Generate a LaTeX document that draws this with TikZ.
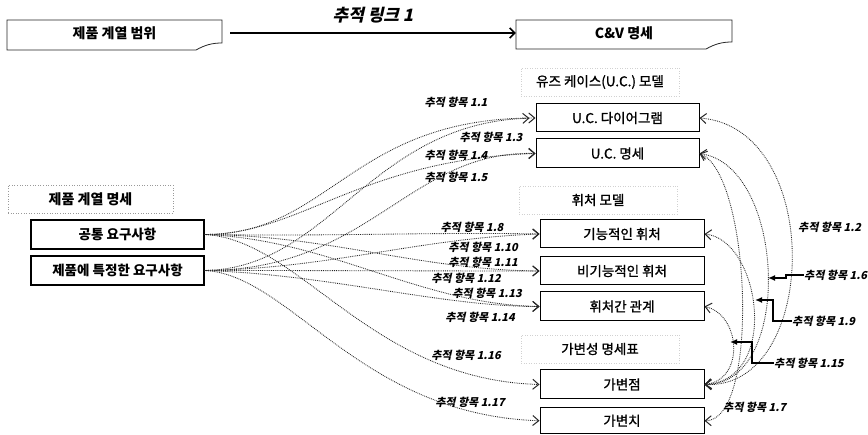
\documentclass[tikz,border=0pt]{standalone}
\usepackage{fontspec}
\newfontfamily\kr{Noto Sans CJK KR}
\newfontfamily\krm{Noto Sans CJK KR}[FakeBold=1.2]
\newfontfamily\krsl{Noto Sans CJK KR}[FakeSlant=0.22]
\usetikzlibrary{arrows.meta}
\begin{document}
\begin{tikzpicture}[x=1pt,y=-1pt,
  toptext/.style={font=\kr\bfseries\fontsize{14}{16}\selectfont, inner sep=0pt, minimum height=26pt},
  doc/.style={draw=black!85, line width=0.8pt},
  lbox/.style={draw=black, line width=1.1pt, minimum width=173pt, minimum height=29pt, inner sep=0pt, font=\kr\bfseries\fontsize{13.5}{15}\selectfont},
  rbox/.style={draw=black, line width=1pt, minimum width=164pt, inner sep=0pt, font=\krm\fontsize{13.5}{15}\selectfont},
  grp/.style={draw=black!18, dotted, line width=0.5pt, minimum width=158pt, minimum height=28pt, inner sep=0pt, font=\krm\fontsize{13.5}{15}\selectfont},
  lgrp/.style={draw=black!40, dotted, line width=0.6pt, minimum width=165pt, minimum height=28pt, inner sep=0pt, font=\kr\bfseries\fontsize{14}{16}\selectfont},
  lab/.style={font=\krsl\bfseries\fontsize{11}{12}\selectfont, inner sep=0pt},
  toplab/.style={font=\krsl\bfseries\fontsize{17}{19}\selectfont, inner sep=0pt},
  tip/.style={},
  trace/.style={densely dotted, line width=0.85pt, draw=black!85, -{Straight Barb[length=6pt,width=10pt,line width=1pt]}},
  trace2/.style={densely dotted, line width=0.85pt, draw=black!85, {Straight Barb[length=6pt,width=10pt,line width=1pt]}-{Straight Barb[length=6pt,width=10pt,line width=1pt]}},
  steparrow/.style={line width=1.5pt, -{Latex[length=7pt,width=6pt]}},
  toparrow/.style={line width=1.6pt, shorten <=8pt, -{Straight Barb[length=5pt,width=10pt,line width=1.6pt]}}
]
\useasboundingbox (0,0) rectangle (868,435);

% top row
\node[toptext, minimum width=215pt] (scope) at (114.5,33) {제품 계열 범위};
\draw[doc] (7,20) -- (222,20) -- (222,43) .. controls (212,43) and (205,45) .. (196,50) -- (7,50) -- cycle;
\node[toptext, minimum width=216pt] (cv) at (624,33) {C\&V 명세};
\draw[doc] (516,20) -- (732,20) -- (732,42) .. controls (722,42) and (715,44) .. (706,49) -- (516,49) -- cycle;
\draw[toparrow] (scope.east) -- (cv.west);
\node[toplab] (tl1) at (373,15) {추적 링크 1};

% left side
\node[lgrp] (plspec) at (90.5,199) {제품 계열 명세};
\node[lbox] (com) at (117.5,234.5) {공통 요구사항};
\node[lbox] (spec) at (117.5,270.5) {제품에 특정한 요구사항};

% right side groups
\node[grp] (ucg) at (600,82) {유즈 케이스(U.C.) 모델};
\node[rbox, minimum width=163pt, minimum height=28pt] (ucd) at (617.5,118) {U.C. 다이어그램};
\node[rbox, minimum width=163pt, minimum height=29pt] (ucs) at (617.5,153.5) {U.C. 명세};
\node[grp] (ftg) at (598,200) {휘처 모델};
\node[rbox, minimum height=28pt] (fun) at (622,234) {기능적인 휘처};
\node[rbox, minimum height=28pt] (nfun) at (622,271) {비기능적인 휘처};
\node[rbox, minimum height=29pt] (rel) at (622,306.5) {휘처간 관계};
\node[grp] (vtg) at (600,349) {가변성 명세표};
\node[rbox, minimum height=29pt] (vp) at (622,384.5) {가변점};
\node[rbox, minimum height=25.5pt] (vv) at (622,420.75) {가변치};

% left trace links
\draw[trace] (com.east) .. controls +(126,0) and +(-185,0) .. (ucd.west);
\draw[trace, shorten >=6pt] (spec.east) .. controls +(126,-2) and +(-166,5) .. (ucd.west);
\draw[trace] (com.east) .. controls +(96,0) and +(-175,6) .. (ucs.west);
\draw[trace] (spec.east) .. controls +(166,0) and +(-126,-3.5) .. (ucs.west);
\draw[trace] (com.east) .. controls +(130,2) and +(-110,-2) .. (fun.west);
\draw[trace] (spec.east) .. controls +(126,-2) and +(-120,4) .. (fun.west);
\draw[trace] (com.east) .. controls +(126,1) and +(-120,-1) .. (nfun.west);
\draw[trace] (spec.east) .. controls +(130,0) and +(-110,0) .. (nfun.west);
\draw[trace] (com.east) .. controls +(126,5) and +(-120,-2) .. (rel.west);
\draw[trace] (spec.east) .. controls +(126,4) and +(-100,0) .. (rel.west);
\draw[trace] (com.east) .. controls +(96,5) and +(-170,-5) .. (vp.west);
\draw[trace] (spec.east) .. controls +(86,4) and +(-180,-6) .. (vv.west);

\node[lab] (l11) at (456,102) {추적 항목 1.1};
\node[lab] (l13) at (491,137) {추적 항목 1.3};
\node[lab] (l14) at (456,155) {추적 항목 1.4};
\node[lab] (l15) at (456,177) {추적 항목 1.5};
\node[lab] (l18) at (472,227) {추적 항목 1.8};
\node[lab] (l110) at (483,247) {추적 항목 1.10};
\node[lab] (l111) at (483,262) {추적 항목 1.11};
\node[lab] (l112) at (466,278) {추적 항목 1.12};
\node[lab] (l113) at (487,293) {추적 항목 1.13};
\node[lab] (l114) at (480,317) {추적 항목 1.14};
\node[lab] (l116) at (466,355) {추적 항목 1.16};
\node[lab] (l117) at (470,402) {추적 항목 1.17};

% right trace links
\draw[trace2] (ucd.east) .. controls +(125,10) and +(115,5) .. (vp.east);
\draw[trace2] (ucs.east) .. controls +(86,12) and +(90,0) .. (vp.east);
\draw[trace2] (ucs.east) .. controls +(51,20) and +(56,0) .. (vv.east);
\draw[trace2] (fun.east) .. controls +(56,6) and +(76,-4.5) .. (vp.east);
\draw[trace2] (rel.east) .. controls +(36,8) and +(41,-5) .. (vp.east);

\node[lab, anchor=west] (l12) at (798,227) {추적 항목 1.2};
\node[lab, anchor=west] (l16) at (804,275) {추적 항목 1.6};
\node[lab, anchor=west] (l19) at (792,321) {추적 항목 1.9};
\node[lab, anchor=west] (l115) at (774,363) {추적 항목 1.15};
\node[lab, anchor=west] (l17) at (723,407) {추적 항목 1.7};

\coordinate (t16) at (768,278);
\coordinate (t19) at (755,300);
\coordinate (t115) at (730,342);
\draw[steparrow] (l16.west) -- ++(-18,0) |- (t16);
\draw[steparrow] (l19.west) -- ++(-19,0) |- (t19);
\draw[steparrow] (l115.west) -- ++(-22,0) |- (t115);
\end{tikzpicture}
\end{document}
